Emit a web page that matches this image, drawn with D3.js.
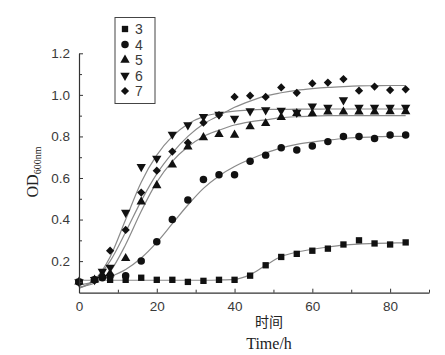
<!DOCTYPE html>
<html><head><meta charset="utf-8">
<script src="https://cdn.jsdelivr.net/npm/d3@7"></script>
<style>body{margin:0;background:#fff}svg{display:block}</style>
</head><body>
<script>
// ---- data ----
const seriesNames = ["3","4","5","6","7"];
const times = [0,4,8,12,16,20,24,28,32,36,40,44,48,52,56,60,64,68,72,76,80,84];
const s3 = [0.10,0.11,0.11,0.11,0.12,0.11,0.11,0.10,0.105,0.11,0.11,0.13,0.18,0.22,0.235,0.25,0.26,0.28,0.30,0.285,0.28,0.29];
const s4 = [0.10,0.11,0.13,0.13,0.20,0.293,0.40,0.494,0.593,0.616,0.616,0.68,0.71,0.745,0.735,0.754,0.775,0.80,0.80,0.79,0.807,0.807];
const s5 = [0.10,0.11,0.14,0.213,0.486,0.564,0.664,0.75,0.795,0.81,0.807,0.847,0.863,0.892,0.911,0.91,0.918,0.918,0.918,0.918,0.92,0.92];
const s6 = [0.10,0.11,0.17,0.434,0.654,0.694,0.81,0.855,0.895,0.906,0.887,0.922,0.927,0.925,0.915,0.946,0.94,0.975,0.94,0.94,0.94,0.94];
const s7 = [0.10,0.11,0.25,0.35,0.53,0.635,0.727,0.77,0.866,0.903,0.99,0.996,0.99,1.036,1.01,1.055,1.059,1.076,1.02,1.04,1.023,1.027];
// extra early points at t = 6
const earlyT = 6;
const early = [null,0.12,0.13,0.15,0.13];
// fitted curves
const fitT = [0,4,8,12,16,20,24,28,32,36,40,44,48,52,56,60,64,68,72,76,80,84];
const f3 = [0.108,0.108,0.108,0.108,0.108,0.108,0.108,0.108,0.108,0.109,0.112,0.135,0.18,0.222,0.243,0.257,0.268,0.277,0.282,0.285,0.287,0.288];
const f4 = [0.085,0.10,0.125,0.16,0.215,0.29,0.38,0.47,0.55,0.61,0.655,0.69,0.72,0.745,0.762,0.773,0.782,0.79,0.795,0.798,0.80,0.80];
const f5 = [0.075,0.095,0.15,0.28,0.44,0.58,0.68,0.75,0.80,0.83,0.855,0.87,0.88,0.89,0.895,0.898,0.90,0.90,0.90,0.90,0.90,0.90];
const f6 = [0.07,0.11,0.22,0.40,0.58,0.71,0.80,0.86,0.895,0.912,0.922,0.927,0.93,0.93,0.931,0.931,0.932,0.932,0.932,0.932,0.932,0.932];
const f7 = [0.07,0.11,0.20,0.34,0.49,0.62,0.72,0.80,0.86,0.90,0.94,0.97,0.995,1.01,1.022,1.03,1.036,1.04,1.043,1.044,1.045,1.045];
const xTicks = [0,20,40,60,80];
const xMinor = [10,30,50,70,90];
const yTicks = [0.2,0.4,0.6,0.8,1.0,1.2];
const yMinor = [0.1,0.3,0.5,0.7,0.9,1.1];

const values = [s3,s4,s5,s6,s7];
const fits = [f3,f4,f5,f6,f7];

const W=445,H=355;
const svg = d3.select("body").append("svg").attr("width",W).attr("height",H);
const x = d3.scaleLinear().domain([0,90]).range([79,429]);
const y = d3.scaleLinear().domain([0.048,1.2]).range([292.7,53.3]);
const axisColor="#333", textColor="#3a3a3a";

// fitted curves
const line = d3.line().x((d,i)=>x(fitT[i])).y(d=>y(d)).curve(d3.curveMonotoneX);
fits.forEach(f=>{
  svg.append("path").attr("d",line(f)).attr("fill","none").attr("stroke","#8a8a8a").attr("stroke-width",1.2);
});

const symTypes=[d3.symbolSquare,d3.symbolCircle,d3.symbolTriangle,d3.symbolTriangle,d3.symbolSquare];
const sizes=[40,44,38,38,34];
const rot=["","", "", " rotate(180)"," rotate(45)"];
function drawSym(g,k,cx,cy){
  return g.append("path").attr("d",d3.symbol(symTypes[k],sizes[k])()).attr("fill","#111")
    .attr("transform",`translate(${cx},${cy})`+rot[k]);
}
values.forEach((vals,k)=>{
  const g=svg.append("g");
  vals.forEach((v,i)=>drawSym(g,k,x(times[i]),y(v)));
  if(early[k]!=null) drawSym(g,k,x(earlyT),y(early[k]));
});

// axes
const xAxis = d3.axisBottom(x).tickValues(xTicks).tickSizeInner(-4).tickSizeOuter(0).tickPadding(9).tickFormat(d3.format("d"));
svg.append("g").attr("transform","translate(0,292.7)").call(xAxis);
const xAxisM = d3.axisBottom(x).tickValues(xMinor).tickSize(-3).tickFormat("");
svg.append("g").attr("transform","translate(0,292.7)").call(xAxisM).select(".domain").remove();
const yAxis = d3.axisLeft(y).tickValues(yTicks).tickSizeInner(-4).tickSizeOuter(0).tickPadding(9).tickFormat(d3.format(".1f"));
svg.append("g").attr("transform","translate(79,0)").call(yAxis);
const yAxisM = d3.axisLeft(y).tickValues(yMinor).tickSize(-3).tickFormat("");
svg.append("g").attr("transform","translate(79,0)").call(yAxisM).select(".domain").remove();
svg.selectAll(".domain").attr("stroke",axisColor).attr("stroke-width",1.2);
svg.selectAll(".tick line").attr("stroke",axisColor);
svg.selectAll(".tick text").attr("fill",textColor).style("font-family","Liberation Sans, Arial, sans-serif").style("font-size","13.5px");

// axis titles
const yt = svg.append("text").attr("transform","translate(38,172) rotate(-90)").attr("text-anchor","middle")
  .style("font-family","Liberation Serif, Times New Roman, serif").style("font-size","16px").attr("fill","#222");
yt.append("tspan").text("OD");
yt.append("tspan").attr("dy",3).style("font-size","10px").text("600nm");
svg.append("text").attr("x",269).attr("y",327).attr("text-anchor","middle")
  .style("font-family","Noto Sans CJK SC, sans-serif").style("font-size","14px").attr("fill","#222").text("时间");
svg.append("text").attr("x",269).attr("y",349).attr("text-anchor","middle")
  .style("font-family","Liberation Serif, Times New Roman, serif").style("font-size","16px").attr("fill","#222").text("Time/h");

// legend
const lg = svg.append("g");
lg.append("rect").attr("x",115).attr("y",17.5).attr("width",40).attr("height",86).attr("fill","#fff").attr("stroke","#444").attr("stroke-width",1);
seriesNames.forEach((n,k)=>{
  const cy = 29 + k*15.5;
  drawSym(lg,k,125,cy);
  lg.append("text").attr("x",135).attr("y",cy+5).text(n).attr("fill",textColor)
    .style("font-family","Liberation Sans, Arial, sans-serif").style("font-size","14px");
});
</script>
</body></html>
